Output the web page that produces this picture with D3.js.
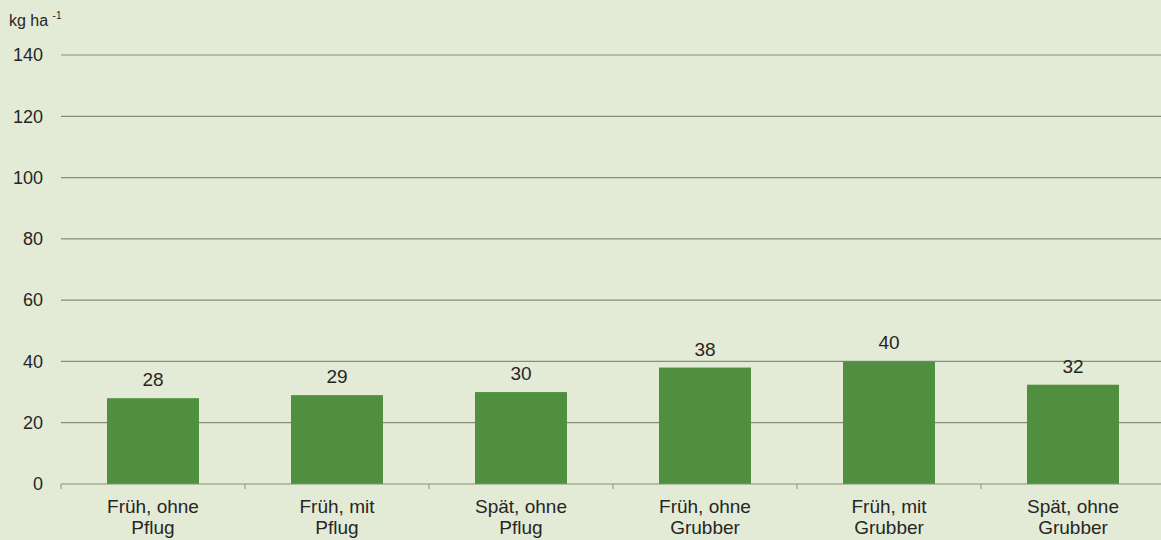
<!DOCTYPE html>
<html>
<head>
<meta charset="utf-8">
<script src="https://cdn.jsdelivr.net/npm/d3@7"></script>
<style>
  body { margin: 0; background: #e3ebd6; }
  svg { display: block; font-family: "Liberation Sans", Arial, sans-serif; }
</style>
</head>
<body>
<div id="chart"></div>
<script>
// Daten
const categories = [
    ["Früh, ohne", "Pflug"],
    ["Früh, mit", "Pflug"],
    ["Spät, ohne", "Pflug"],
    ["Früh, ohne", "Grubber"],
    ["Früh, mit", "Grubber"],
    ["Spät, ohne", "Grubber"]
];
const values = [28, 29, 30, 38, 40, 32.4];
const yTicks = [0, 20, 40, 60, 80, 100, 120, 140];

const width = 1161, height = 540;
const margin = { top: 55, right: -4, bottom: 56, left: 61 };

const svg = d3.select("#chart").append("svg")
    .attr("width", width)
    .attr("height", height);

svg.append("rect").attr("width", width).attr("height", height).attr("fill", "#e3ebd6");

// Skalen
const x = d3.scaleBand()
    .domain(d3.range(categories.length))
    .range([margin.left, width - margin.right])
    .paddingInner(0.5)
    .paddingOuter(0.25);

const y = d3.scaleLinear()
    .domain([0, 140])
    .range([height - margin.bottom, margin.top]);

// Gitterlinien
svg.append("g")
    .selectAll("line")
    .data(yTicks.filter(d => d > 0))
    .join("line")
    .attr("x1", margin.left)
    .attr("x2", width)
    .attr("y1", d => y(d))
    .attr("y2", d => y(d))
    .attr("stroke", "#858f7a")
    .attr("stroke-width", 1.2);

// Y-Achsenbeschriftung
svg.append("g")
    .selectAll("text")
    .data(yTicks)
    .join("text")
    .attr("x", 43)
    .attr("y", d => y(d))
    .attr("dy", "0.35em")
    .attr("text-anchor", "end")
    .attr("font-size", "18px")
    .attr("fill", "#262626")
    .text(d => d);

// Einheit
const unit = svg.append("text")
    .attr("x", 9)
    .attr("y", 26)
    .attr("font-size", "16px")
    .attr("fill", "#262626");
unit.append("tspan").text("kg ha ");
unit.append("tspan").attr("font-size", "10px").attr("dy", "-7").text("-1");

// Balken
svg.append("g")
    .selectAll("rect")
    .data(values)
    .join("rect")
    .attr("x", (d, i) => x(i))
    .attr("y", d => y(d))
    .attr("width", x.bandwidth())
    .attr("height", d => y(0) - y(d))
    .attr("fill", "#4f8f3f");

// Werte
svg.append("g")
    .selectAll("text")
    .data(values)
    .join("text")
    .attr("x", (d, i) => x(i) + x.bandwidth() / 2)
    .attr("y", d => y(d) - 12)
    .attr("text-anchor", "middle")
    .attr("font-size", "19px")
    .attr("fill", "#262626")
    .text(d => d3.format(".0f")(Math.floor(d)));

// X-Achse
const step = x.step();
svg.append("line")
    .attr("x1", margin.left).attr("x2", width)
    .attr("y1", y(0)).attr("y2", y(0))
    .attr("stroke", "#858f7a").attr("stroke-width", 1.2);

svg.append("g")
    .selectAll("line")
    .data(d3.range(categories.length + 1))
    .join("line")
    .attr("x1", i => margin.left + i * step)
    .attr("x2", i => margin.left + i * step)
    .attr("y1", y(0))
    .attr("y2", y(0) + 5)
    .attr("stroke", "#858f7a");

// Kategorien
const catLabels = svg.append("g")
    .selectAll("text")
    .data(categories)
    .join("text")
    .attr("x", (d, i) => x(i) + x.bandwidth() / 2)
    .attr("y", 513)
    .attr("text-anchor", "middle")
    .attr("font-size", "19px")
    .attr("fill", "#262626");

catLabels.each(function (d, i) {
    const t = d3.select(this);
    d.forEach((line, k) => {
        t.append("tspan")
            .attr("x", x(i) + x.bandwidth() / 2)
            .attr("dy", k === 0 ? 0 : 21)
            .text(line);
    });
});
</script>
</body>
</html>
